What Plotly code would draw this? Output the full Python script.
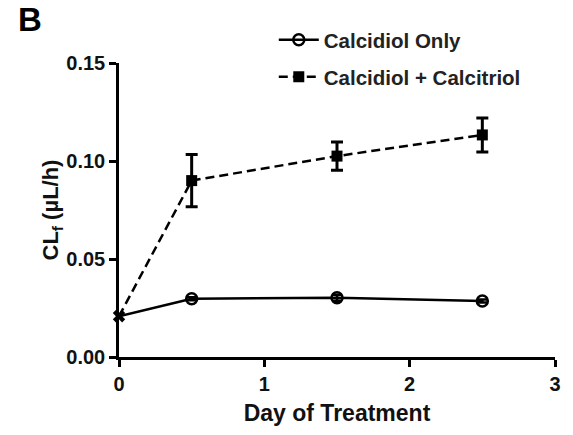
import plotly.graph_objects as go

days = [0, 0.5, 1.5, 2.5]
calcidiol_only = [0.0208, 0.0297, 0.0302, 0.0286]
calcidiol_only_err = [0.0, 0.0008, 0.0015, 0.0008]
calcidiol_calcitriol = [0.0208, 0.0900, 0.1025, 0.1133]
calcidiol_calcitriol_err = [0.0, 0.0133, 0.0072, 0.0087]
series_names = ["Calcidiol Only", "Calcidiol + Calcitriol"]
x_ticks = [0, 1, 2, 3]
y_ticks = [0.00, 0.05, 0.10, 0.15]
y_tick_labels = ["0.00", "0.05", "0.10", "0.15"]

FONT = "Liberation Sans, Arial, sans-serif"
DASH = "9px,5px"

fig = go.Figure()
# first segment from baseline (day 0) to first treatment point
fig.add_trace(go.Scatter(x=days[:2], y=calcidiol_only[:2], mode="lines", showlegend=False,
                         line=dict(color="black", width=2.5), cliponaxis=False))
fig.add_trace(go.Scatter(x=days[:2], y=calcidiol_calcitriol[:2], mode="lines", showlegend=False,
                         line=dict(color="black", width=2.5, dash=DASH), cliponaxis=False))
# remaining segments with markers and error bars
fig.add_trace(go.Scatter(
    x=days[1:], y=calcidiol_only[1:], name=series_names[0], mode="lines+markers",
    line=dict(color="black", width=2.5), legend="legend",
    marker=dict(symbol="circle-open", size=11, color="black", line=dict(color="black", width=2.5)),
    error_y=dict(type="data", array=calcidiol_only_err[1:], color="black", thickness=2.5, width=5),
    cliponaxis=False,
))
fig.add_trace(go.Scatter(
    x=days[1:], y=calcidiol_calcitriol[1:], name=series_names[1], mode="lines+markers",
    line=dict(color="black", width=2.5, dash=DASH), legend="legend2",
    marker=dict(symbol="square", size=11, color="black"),
    error_y=dict(type="data", array=calcidiol_calcitriol_err[1:], color="black", thickness=3, width=6),
    cliponaxis=False,
))
# baseline point (shared by both series)
fig.add_trace(go.Scatter(x=days[:1], y=calcidiol_only[:1], mode="markers", showlegend=False,
                         marker=dict(symbol="x", size=11, color="black"), cliponaxis=False))

axis_common = dict(
    showline=True, linecolor="black", linewidth=2.5,
    ticks="outside", ticklen=7, tickwidth=2.5, tickcolor="black",
    showgrid=False, zeroline=False,
    tickfont=dict(family=FONT, size=20, color="#111", weight="bold"),
)
legend_common = dict(xanchor="left", yanchor="middle", itemwidth=40,
                     font=dict(family=FONT, size=20.5, color="#222", weight="bold"),
                     bgcolor="rgba(0,0,0,0)")

fig.update_layout(
    width=573, height=435,
    margin=dict(l=119, r=14, t=63, b=78),
    paper_bgcolor="white", plot_bgcolor="white",
    showlegend=True,
    legend=dict(x=0.355, y=1 + (63 - 40) / 294, **legend_common),
    legend2=dict(x=0.355, y=1 + (63 - 77) / 294, **legend_common),
    xaxis=dict(range=[0, 3], tickvals=x_ticks,
               title=dict(text="Day of Treatment", standoff=12,
                          font=dict(family=FONT, size=23, color="#111", weight="bold")),
               **axis_common),
    yaxis=dict(range=[0, 0.15], tickvals=y_ticks, ticktext=y_tick_labels,
               title=dict(text="CL<sub>f</sub> (µL/h)", standoff=2,
                          font=dict(family=FONT, size=22, color="#111", weight="bold")),
               **axis_common),
)
fig.add_annotation(text="B", xref="paper", yref="paper",
                   x=-104 / 440, y=1 + 43 / 294, xanchor="left", yanchor="middle",
                   showarrow=False, font=dict(family=FONT, size=33, color="black", weight="bold"))

fig.write_html("out.html")
